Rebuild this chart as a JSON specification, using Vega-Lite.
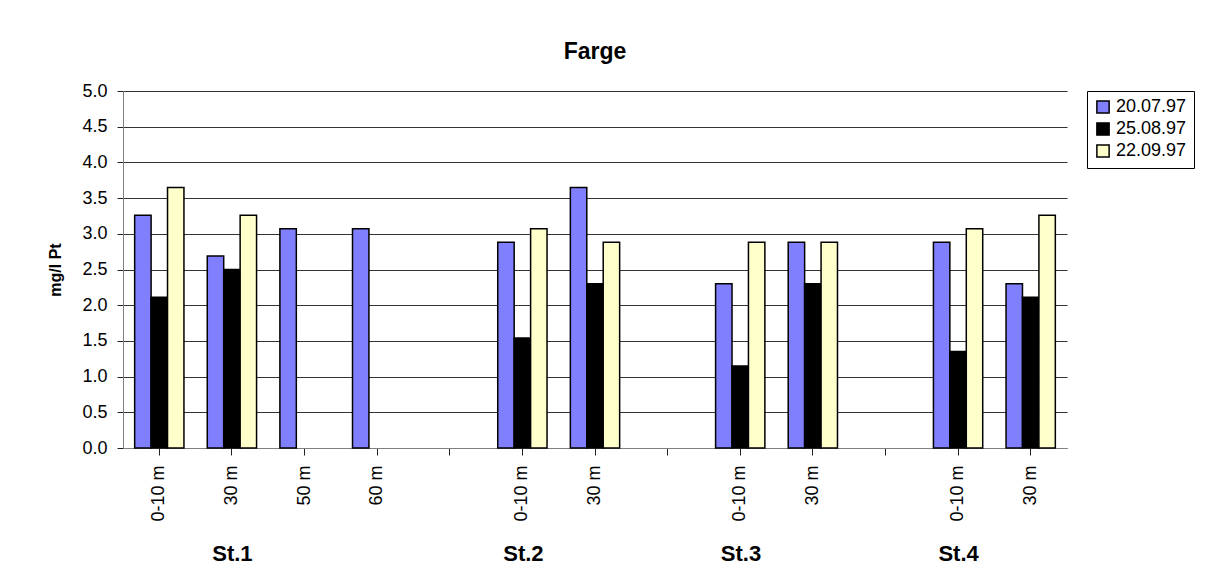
{
  "$schema": "https://vega.github.io/schema/vega-lite/v6.json",
  "width": 944,
  "height": 357,
  "padding": {"left": 47, "top": 41, "right": 5, "bottom": 5},
  "background": "white",
  "title": {"text": "Farge", "fontSize": 23, "fontWeight": "bold", "font": "Liberation Sans", "color": "#000", "offset": 18},
  "config": {
    "font": "Liberation Sans",
    "view": {"stroke": null}
  },
  "data": {"values": [
      {"slot": "St.1|0-10 m", "date": "20.07.97", "value": 3.26},
      {"slot": "St.1|0-10 m", "date": "25.08.97", "value": 2.11},
      {"slot": "St.1|0-10 m", "date": "22.09.97", "value": 3.65},
      {"slot": "St.1|30 m", "date": "20.07.97", "value": 2.69},
      {"slot": "St.1|30 m", "date": "25.08.97", "value": 2.5},
      {"slot": "St.1|30 m", "date": "22.09.97", "value": 3.26},
      {"slot": "St.1|50 m", "date": "20.07.97", "value": 3.07},
      {"slot": "St.1|60 m", "date": "20.07.97", "value": 3.07},
      {"slot": "St.2|0-10 m", "date": "20.07.97", "value": 2.88},
      {"slot": "St.2|0-10 m", "date": "25.08.97", "value": 1.54},
      {"slot": "St.2|0-10 m", "date": "22.09.97", "value": 3.07},
      {"slot": "St.2|30 m", "date": "20.07.97", "value": 3.65},
      {"slot": "St.2|30 m", "date": "25.08.97", "value": 2.3},
      {"slot": "St.2|30 m", "date": "22.09.97", "value": 2.88},
      {"slot": "St.3|0-10 m", "date": "20.07.97", "value": 2.3},
      {"slot": "St.3|0-10 m", "date": "25.08.97", "value": 1.15},
      {"slot": "St.3|0-10 m", "date": "22.09.97", "value": 2.88},
      {"slot": "St.3|30 m", "date": "20.07.97", "value": 2.88},
      {"slot": "St.3|30 m", "date": "25.08.97", "value": 2.3},
      {"slot": "St.3|30 m", "date": "22.09.97", "value": 2.88},
      {"slot": "St.4|0-10 m", "date": "20.07.97", "value": 2.88},
      {"slot": "St.4|0-10 m", "date": "25.08.97", "value": 1.35},
      {"slot": "St.4|0-10 m", "date": "22.09.97", "value": 3.07},
      {"slot": "St.4|30 m", "date": "20.07.97", "value": 2.3},
      {"slot": "St.4|30 m", "date": "25.08.97", "value": 2.11},
      {"slot": "St.4|30 m", "date": "22.09.97", "value": 3.26}
  ]},
  "mark": {"type": "bar", "stroke": "#000", "strokeWidth": 1.5},
  "encoding": {
    "x": {
      "field": "slot", "type": "nominal",
      "scale": {
        "domain": ["St.1|0-10 m", "St.1|30 m", "St.1|50 m", "St.1|60 m", "gap1", "St.2|0-10 m", "St.2|30 m", "gap2", "St.3|0-10 m", "St.3|30 m", "gap3", "St.4|0-10 m", "St.4|30 m"],
        "paddingInner": 0, "paddingOuter": 0
      },
      "axis": {
        "title": "\u00a0\u00a0\u00a0\u00a0\u00a0\u00a0\u00a0\u00a0\u00a0\u00a0\u00a0\u00a0St.1\u00a0\u00a0\u00a0\u00a0\u00a0\u00a0\u00a0\u00a0\u00a0\u00a0\u00a0\u00a0\u00a0\u00a0\u00a0\u00a0\u00a0\u00a0\u00a0\u00a0\u00a0\u00a0\u00a0\u00a0\u00a0\u00a0\u00a0\u00a0\u00a0\u00a0\u00a0\u00a0\u00a0\u00a0\u00a0\u00a0\u00a0\u00a0\u00a0\u00a0\u00a0St.2\u00a0\u00a0\u00a0\u00a0\u00a0\u00a0\u00a0\u00a0\u00a0\u00a0\u00a0\u00a0\u00a0\u00a0\u00a0\u00a0\u00a0\u00a0\u00a0\u00a0\u00a0\u00a0\u00a0\u00a0\u00a0\u00a0\u00a0\u00a0\u00a0St.3\u00a0\u00a0\u00a0\u00a0\u00a0\u00a0\u00a0\u00a0\u00a0\u00a0\u00a0\u00a0\u00a0\u00a0\u00a0\u00a0\u00a0\u00a0\u00a0\u00a0\u00a0\u00a0\u00a0\u00a0\u00a0\u00a0\u00a0\u00a0\u00a0St.4",
        "titleFont": "Liberation Sans",
        "titleFontSize": 22,
        "titleFontWeight": "bold",
        "titleColor": "#000",
        "titlePadding": 22,
        "labelFont": "Liberation Sans",
        "labelColor": "#000",
        "labelAngle": -90,
        "labelFontSize": 18,
        "labelPadding": 10,
        "labelExpr": "indexof(datum.value, '|') >= 0 ? substring(datum.value, indexof(datum.value, '|') + 1) : ''",
        "tickSize": 7,
        "tickColor": "#222",
        "domainColor": "#808080",
        "grid": false
      }
    },
    "xOffset": {
      "field": "date", "type": "nominal",
      "sort": ["20.07.97", "25.08.97", "22.09.97"],
      "scale": {"paddingInner": 0, "paddingOuter": 0.71}
    },
    "y": {
      "field": "value", "type": "quantitative",
      "stack": null,
      "scale": {"domain": [0, 5]},
      "axis": {
        "title": "mg/l Pt",
        "titleFont": "Liberation Sans",
        "titleFontSize": 16,
        "titleFontWeight": "bold",
        "titleColor": "#000",
        "titlePadding": 18,
        "tickCount": 10,
        "labelFont": "Liberation Sans",
        "labelColor": "#000",
        "labelFontSize": 18,
        "labelPadding": 10,
        "tickSize": 6,
        "tickColor": "#222",
        "domainColor": "#808080",
        "gridColor": "#333"
      }
    },
    "color": {
      "field": "date", "type": "nominal",
      "sort": ["20.07.97", "25.08.97", "22.09.97"],
      "scale": {"range": ["#8080FF", "#000000", "#FFFFCC"]},
      "legend": {
        "title": null,
        "strokeColor": "#000",
        "padding": 7,
        "offset": 20,
        "symbolType": "square",
        "symbolSize": 150,
        "labelFont": "Liberation Sans",
        "labelFontSize": 18,
        "labelColor": "#000"
      }
    }
  }
}
